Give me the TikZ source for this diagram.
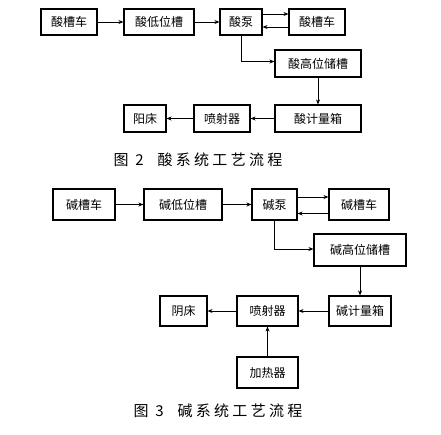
\documentclass[tikz,border=0pt]{standalone}
\usepackage{fontspec}
\setmainfont{Noto Sans CJK SC}
\newfontfamily\capfont[LetterSpace=22]{Noto Sans CJK SC}
\usetikzlibrary{arrows.meta}

\begin{document}
\begin{tikzpicture}[x=1pt, y=1pt,
    tank/.style={draw, line width=1.1pt, minimum height=26pt, inner sep=0pt, font=\fontsize{12}{13}\selectfont},
    btank/.style={tank, minimum height=31pt},
    flow/.style={-{Stealth[length=5pt,width=4pt]}, line width=0.8pt}]
\useasboundingbox (0,0) rectangle (441,-434);
% acid system
\node[tank, minimum width=56pt] (ac1) at (69,-22) {酸槽车};
\node[tank, minimum width=70pt] (ac2) at (159,-22) {酸低位槽};
\node[tank, minimum width=42pt] (ac3) at (241,-22) {酸泵};
\node[tank, minimum width=56pt] (ac4) at (317,-22) {酸槽车};
\node[tank, minimum width=86pt, minimum height=27pt] (ac5) at (318,-63.5) {酸高位储槽};
\node[tank, minimum width=86pt, minimum height=27pt] (ac6) at (318,-118.5) {酸计量箱};
\node[tank, minimum width=56pt, minimum height=27pt] (ac7) at (222,-118.5) {喷射器};
\node[tank, minimum width=42pt, minimum height=27pt] (ac8) at (145,-118.5) {阳床};
\draw[flow] (ac1) -- (ac2);
\draw[flow] (ac2) -- (ac3);
\draw[flow] ([yshift=8pt]ac3.east) -- ([yshift=8pt]ac4.west);
\draw[flow] ([yshift=-5pt]ac4.west) -- ([yshift=-5pt]ac3.east);
\draw[flow] (ac3.south) |- ([yshift=2pt]ac5.west);
\draw[flow] (ac5) -- (ac6);
\draw[flow] (ac6) -- (ac7);
\draw[flow] (ac7) -- (ac8);
\node[font=\capfont\fontsize{15}{16}\selectfont] (cap2) at (198,-160) {图 2\hspace{14pt}酸系统工艺流程};
% alkali system
\node[btank, minimum width=62pt] (al1) at (84,-204.5) {碱槽车};
\node[btank, minimum width=78pt] (al2) at (183,-204.5) {碱低位槽};
\node[btank, minimum width=45pt] (al3) at (274.5,-204.5) {碱泵};
\node[btank, minimum width=60pt] (al4) at (359,-204.5) {碱槽车};
\node[btank, minimum width=92pt, minimum height=32pt] (al5) at (360,-250) {碱高位储槽};
\node[btank, minimum width=62pt, minimum height=30pt] (al6) at (360,-311) {碱计量箱};
\node[btank, minimum width=61pt, minimum height=30pt] (al7) at (267.5,-311) {喷射器};
\node[btank, minimum width=47pt, minimum height=30pt] (al8) at (183.5,-311) {阴床};
\node[btank, minimum width=61pt] (al9) at (267.5,-372.5) {加热器};
\draw[flow] (al1) -- (al2);
\draw[flow] (al2) -- (al3);
\draw[flow] ([yshift=7.5pt]al3.east) -- ([yshift=7.5pt]al4.west);
\draw[flow] ([yshift=-9pt]al4.west) -- ([yshift=-9pt]al3.east);
\draw[flow] (al3.south) |- ([yshift=1pt]al5.west);
\draw[flow] (al5) -- (al6);
\draw[flow] (al6) -- (al7);
\draw[flow] (al7) -- (al8);
\draw[flow] (al9) -- (al7);
\node[font=\capfont\fontsize{15}{16}\selectfont] (cap3) at (218,-411) {图 3\hspace{14pt}碱系统工艺流程};
\end{tikzpicture}
\end{document}
